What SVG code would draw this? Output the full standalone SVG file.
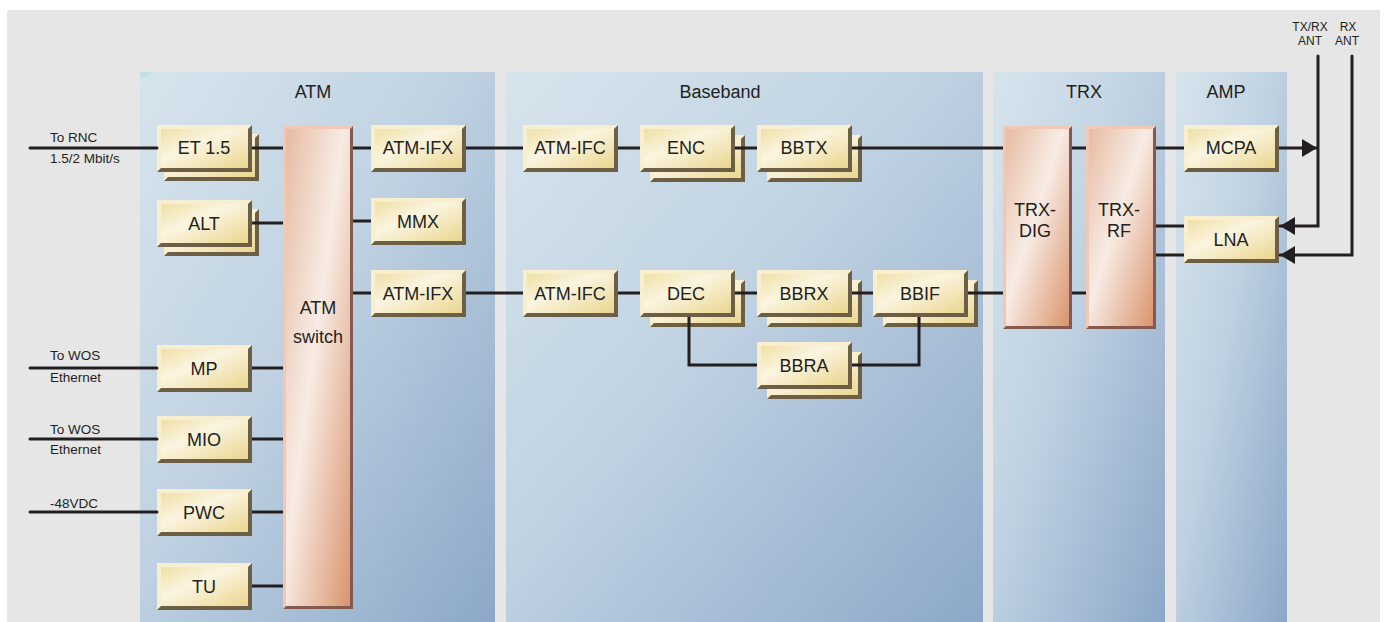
<svg xmlns="http://www.w3.org/2000/svg" xmlns:xlink="http://www.w3.org/1999/xlink" width="1390" height="622" viewBox="0 0 1390 622">
  <defs>
    <style>
      text { font-family: "Liberation Sans", Arial, sans-serif; fill: #231f20; }
      .lbl { font-size: 18px; text-anchor: middle; }
      .ttl { font-size: 18px; text-anchor: middle; }
      .sm { font-size: 13.5px; }
      .ant { font-size: 12px; text-anchor: middle; }
      .panel { fill: url(#panelGrad); }
      .bd { fill: #6d5f46; }
      .bl { fill: #f7efcf; }
      .bf { fill: url(#creamGrad); }
      .pd { fill: #84594f; }
      .pl { fill: #f3c7b5; }
      .pf { fill: url(#pinkGrad); }
      .wire { fill: none; stroke: #231f20; stroke-width: 3; }
      .lead { stroke-linecap: round; }
    </style>
    <linearGradient id="panelGrad" x1="0" y1="0" x2="1" y2="1">
      <stop offset="0" stop-color="#d6e4ec"/>
      <stop offset="0.45" stop-color="#c0d2e2"/>
      <stop offset="1" stop-color="#8ca7c8"/>
    </linearGradient>
    <linearGradient id="creamGrad" x1="0" y1="0" x2="1" y2="1">
      <stop offset="0" stop-color="#efe0a5"/>
      <stop offset="0.4" stop-color="#fbf5e1"/>
      <stop offset="1" stop-color="#ead68f"/>
    </linearGradient>
    <linearGradient id="pinkGrad" x1="0" y1="0" x2="1" y2="1">
      <stop offset="0" stop-color="#e6bba2"/>
      <stop offset="0.45" stop-color="#f8ece5"/>
      <stop offset="1" stop-color="#da946d"/>
    </linearGradient>
    <!-- bevelled cream module, 95 x 47 -->
    <g id="cream">
      <rect class="bd" width="95" height="47"/>
      <polygon class="bl" points="0,0 95,0 91,4 4,43 0,47"/>
      <rect class="bf" x="4" y="4" width="87" height="39"/>
    </g>
    <marker id="arrow" markerUnits="userSpaceOnUse" markerWidth="16" markerHeight="18" refX="15" refY="9" orient="auto">
      <path d="M0,0 L15,9 L0,18 z" fill="#231f20"/>
    </marker>
  </defs>

  <!-- backdrop -->
  <rect x="7" y="10" width="1373" height="612" fill="#e6e6e6"/>

  <!-- sub-system panels -->
  <g id="panel-atm">
    <rect class="panel" x="140" y="72" width="355" height="550"/>
    <polygon points="140,72 153,72 140,80" fill="#bfe0e9"/>
    <text class="ttl" x="313" y="98">ATM</text>
  </g>
  <g id="panel-baseband">
    <rect class="panel" x="506" y="72" width="477" height="550"/>
    <text class="ttl" x="720" y="98">Baseband</text>
  </g>
  <g id="panel-trx">
    <rect class="panel" x="993" y="72" width="172" height="550"/>
    <text class="ttl" x="1084" y="98">TRX</text>
  </g>
  <g id="panel-amp">
    <rect class="panel" x="1176" y="72" width="111" height="550"/>
    <text class="ttl" x="1226" y="98">AMP</text>
  </g>

  <!-- ATM sub-system -->
  <g id="et15">
    <use xlink:href="#cream" x="164" y="134"/>
    <use xlink:href="#cream" x="157" y="125"/>
    <text class="lbl" x="204" y="154">ET 1.5</text>
  </g>
  <g id="alt">
    <use xlink:href="#cream" x="164" y="209"/>
    <use xlink:href="#cream" x="157" y="200"/>
    <text class="lbl" x="204" y="230">ALT</text>
  </g>
  <g id="mp">
    <use xlink:href="#cream" x="157" y="345"/>
    <text class="lbl" x="204" y="375">MP</text>
  </g>
  <g id="mio">
    <use xlink:href="#cream" x="157" y="416"/>
    <text class="lbl" x="204" y="446">MIO</text>
  </g>
  <g id="pwc">
    <use xlink:href="#cream" x="157" y="489"/>
    <text class="lbl" x="204" y="519">PWC</text>
  </g>
  <g id="tu">
    <use xlink:href="#cream" x="157" y="563"/>
    <text class="lbl" x="204" y="593">TU</text>
  </g>
  <g id="atm-switch">
    <rect class="pd" x="283" y="126" width="70" height="483"/>
    <polygon class="pl" points="283,126 353,126 350,129 286,606 283,609"/>
    <rect class="pf" x="286" y="129" width="64" height="477"/>
    <text class="lbl" x="318" y="314">ATM</text>
    <text class="lbl" x="318" y="343">switch</text>
  </g>
  <g id="atm-ifx-1">
    <use xlink:href="#cream" x="371" y="125"/>
    <text class="lbl" x="418" y="154">ATM-IFX</text>
  </g>
  <g id="mmx">
    <use xlink:href="#cream" x="371" y="198"/>
    <text class="lbl" x="418" y="228">MMX</text>
  </g>
  <g id="atm-ifx-2">
    <use xlink:href="#cream" x="371" y="270"/>
    <text class="lbl" x="418" y="300">ATM-IFX</text>
  </g>

  <!-- Baseband sub-system -->
  <g id="atm-ifc-1">
    <use xlink:href="#cream" x="523" y="125"/>
    <text class="lbl" x="570" y="154">ATM-IFC</text>
  </g>
  <g id="enc">
    <use xlink:href="#cream" x="650" y="135"/>
    <use xlink:href="#cream" x="640" y="125"/>
    <text class="lbl" x="686" y="154">ENC</text>
  </g>
  <g id="bbtx">
    <use xlink:href="#cream" x="767" y="135"/>
    <use xlink:href="#cream" x="757" y="125"/>
    <text class="lbl" x="804" y="154">BBTX</text>
  </g>
  <g id="atm-ifc-2">
    <use xlink:href="#cream" x="523" y="270"/>
    <text class="lbl" x="570" y="300">ATM-IFC</text>
  </g>
  <g id="dec">
    <use xlink:href="#cream" x="650" y="280"/>
    <use xlink:href="#cream" x="640" y="270"/>
    <text class="lbl" x="686" y="300">DEC</text>
  </g>
  <g id="bbrx">
    <use xlink:href="#cream" x="767" y="280"/>
    <use xlink:href="#cream" x="757" y="270"/>
    <text class="lbl" x="804" y="300">BBRX</text>
  </g>
  <g id="bbif">
    <use xlink:href="#cream" x="883" y="280"/>
    <use xlink:href="#cream" x="873" y="270"/>
    <text class="lbl" x="920" y="300">BBIF</text>
  </g>
  <g id="bbra">
    <use xlink:href="#cream" x="767" y="352"/>
    <use xlink:href="#cream" x="757" y="342"/>
    <text class="lbl" x="804" y="372">BBRA</text>
  </g>

  <!-- TRX sub-system -->
  <g id="trx-dig">
    <rect class="pd" x="1003" y="126" width="69" height="203"/>
    <polygon class="pl" points="1003,126 1072,126 1069,129 1006,326 1003,329"/>
    <rect class="pf" x="1006" y="129" width="63" height="197"/>
    <text class="lbl" x="1035" y="216">TRX-</text>
    <text class="lbl" x="1035" y="237">DIG</text>
  </g>
  <g id="trx-rf">
    <rect class="pd" x="1086" y="126" width="70" height="203"/>
    <polygon class="pl" points="1086,126 1156,126 1153,129 1089,326 1086,329"/>
    <rect class="pf" x="1089" y="129" width="64" height="197"/>
    <text class="lbl" x="1119" y="216">TRX-</text>
    <text class="lbl" x="1119" y="237">RF</text>
  </g>

  <!-- AMP sub-system -->
  <g id="mcpa">
    <use xlink:href="#cream" x="1184" y="125"/>
    <text class="lbl" x="1231" y="154">MCPA</text>
  </g>
  <g id="lna">
    <use xlink:href="#cream" x="1184" y="216"/>
    <text class="lbl" x="1231" y="246">LNA</text>
  </g>

  <!-- external interface labels -->
  <g id="ext-labels">
    <text class="sm" x="50" y="142">To RNC</text>
    <text class="sm" x="50" y="163">1.5/2 Mbit/s</text>
    <text class="sm" x="50" y="360">To WOS</text>
    <text class="sm" x="50" y="382">Ethernet</text>
    <text class="sm" x="50" y="434">To WOS</text>
    <text class="sm" x="50" y="454">Ethernet</text>
    <text class="sm" x="50" y="508">-48VDC</text>
    <text class="ant" x="1310" y="31">TX/RX</text>
    <text class="ant" x="1310" y="45">ANT</text>
    <text class="ant" x="1348" y="31">RX</text>
    <text class="ant" x="1347" y="45">ANT</text>
  </g>

  <!-- connectors -->
  <g id="connectors" class="wire">
    <path class="lead" d="M30,148 H157"/>
    <path class="lead" d="M30,368 H157"/>
    <path class="lead" d="M30,439 H157"/>
    <path class="lead" d="M30,512 H157"/>
    <path d="M252,148 H283"/>
    <path d="M252,223 H283"/>
    <path d="M252,368 H283"/>
    <path d="M252,439 H283"/>
    <path d="M252,512 H283"/>
    <path d="M252,586 H283"/>
    <path d="M353,148 H371"/>
    <path d="M353,221 H371"/>
    <path d="M353,293 H371"/>
    <path d="M466,148 H523"/>
    <path d="M618,148 H640"/>
    <path d="M735,148 H757"/>
    <path d="M852,148 H1003"/>
    <path d="M466,293 H523"/>
    <path d="M618,293 H640"/>
    <path d="M735,293 H757"/>
    <path d="M852,293 H873"/>
    <path d="M968,293 H1003"/>
    <path d="M689,317 V365 H757"/>
    <path d="M852,365 H919 V317"/>
    <path d="M1072,148 H1086"/>
    <path d="M1072,293 H1086"/>
    <path d="M1156,148 H1184"/>
    <path d="M1156,226 H1184"/>
    <path d="M1156,255 H1184"/>
    <path d="M1279,148 H1317" marker-end="url(#arrow)"/>
    <path class="lead" d="M1318,56 V226 H1280" marker-end="url(#arrow)"/>
    <path class="lead" d="M1352,56 V255 H1280" marker-end="url(#arrow)"/>
  </g>
</svg>
